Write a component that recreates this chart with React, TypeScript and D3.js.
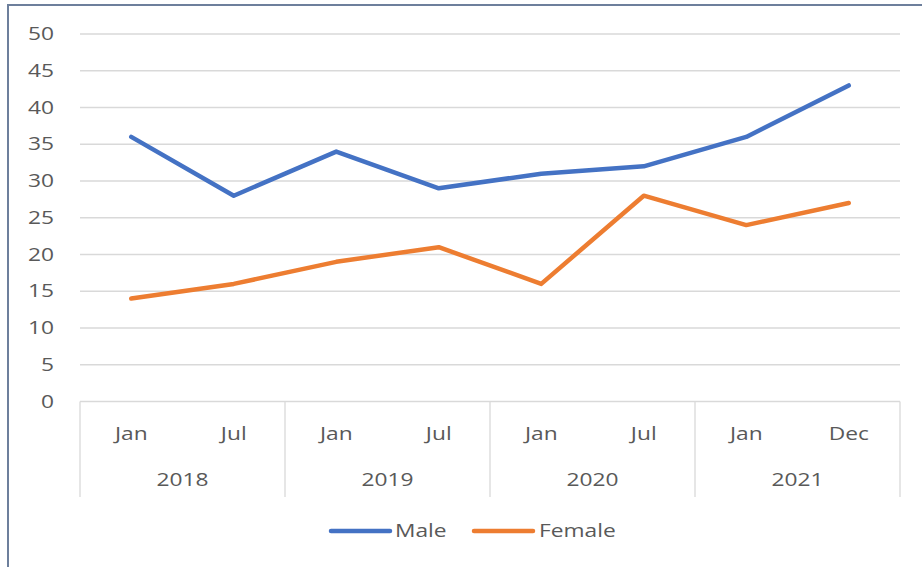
import React, { useEffect, useRef } from "react";
import * as d3 from "d3";

const months = ["Jan", "Jul", "Jan", "Jul", "Jan", "Jul", "Jan", "Dec"];
const years = ["2018", "2019", "2020", "2021"];
const maleValues = [36, 28, 34, 29, 31, 32, 36, 43];
const femaleValues = [14, 16, 19, 21, 16, 28, 24, 27];
const yTicks = [0, 5, 10, 15, 20, 25, 30, 35, 40, 45, 50];
const seriesNames = ["Male", "Female"];
const seriesColors = ["#4472C4", "#ED7D31"];

const W = 922;
const H = 567;

export default function App() {
  const ref = useRef<SVGSVGElement>(null);

  useEffect(() => {
    const svg = d3.select(ref.current);
    svg.selectAll("*").remove();

    const left = 80, right = 900, top = 34, bottom = 401.5;
    const font = "'Open Sans', 'Noto Sans', sans-serif";
    const textColor = "#595959";
    const sx = 1.3;

    const label = (g: any, tx: number, ty: number, s: string, anchor: string) => {
      g.append("text")
        .attr("transform", `translate(${tx},${ty}) scale(${sx},1)`)
        .attr("dy", "0.35em")
        .attr("text-anchor", anchor)
        .attr("font-family", font).attr("font-size", 17.5)
        .attr("fill", textColor)
        .text(s);
    };

    const idx = months.map((_, i) => String(i));
    const x = d3.scaleBand().domain(idx).range([left, right]);
    const y = d3.scaleLinear().domain([0, 50]).range([bottom, top]);

    svg.append("rect").attr("width", W).attr("height", H).attr("fill", "#ffffff");

    // border
    svg.append("path")
      .attr("d", `M8,${H} L8,5 L${W},5`)
      .attr("fill", "none")
      .attr("stroke", "#6d7f9c")
      .attr("stroke-width", 2);

    // gridlines
    svg.append("g").selectAll("line").data(yTicks.filter(t => t > 0)).join("line")
      .attr("x1", left).attr("x2", right)
      .attr("y1", d => y(d)).attr("y2", d => y(d))
      .attr("stroke", "#d9d9d9").attr("stroke-width", 1.3);

    // y labels
    const gy = svg.append("g");
    yTicks.forEach(t => label(gy, 54, y(t), String(t), "end"));

    // category axis box
    const axisBottom = 497;
    svg.append("line")
      .attr("x1", left).attr("x2", right).attr("y1", bottom).attr("y2", bottom)
      .attr("stroke", "#d9d9d9").attr("stroke-width", 1.3);
    const groupBounds = [0, 2, 4, 6, 8].map(i => (i < 8 ? x(String(i))! : right));
    svg.append("g").selectAll("line").data(groupBounds).join("line")
      .attr("x1", d => d).attr("x2", d => d)
      .attr("y1", bottom).attr("y2", axisBottom)
      .attr("stroke", "#d9d9d9").attr("stroke-width", 1.3);

    const gm = svg.append("g");
    months.forEach((m, i) => label(gm, x(String(i))! + x.bandwidth() / 2, 434, m, "middle"));

    const gyr = svg.append("g");
    years.forEach((yr, i) => label(gyr, (groupBounds[i] + groupBounds[i + 1]) / 2, 480, yr, "middle"));

    // lines
    const line = d3.line<number>()
      .x((_, i) => x(String(i))! + x.bandwidth() / 2)
      .y(d => y(d));
    [maleValues, femaleValues].forEach((vals, k) => {
      svg.append("path")
        .attr("d", line(vals)!)
        .attr("fill", "none")
        .attr("stroke", seriesColors[k])
        .attr("stroke-width", 4.5)
        .attr("stroke-linejoin", "round")
        .attr("stroke-linecap", "round");
    });

    // legend
    const legendY = 531;
    const legendItems = [
      { x0: 331, x1: 390, tx: 395 },
      { x0: 474, x1: 533, tx: 539 },
    ];
    const gl = svg.append("g");
    legendItems.forEach((it, k) => {
      gl.append("line")
        .attr("x1", it.x0).attr("x2", it.x1).attr("y1", legendY).attr("y2", legendY)
        .attr("stroke", seriesColors[k]).attr("stroke-width", 4.5)
        .attr("stroke-linecap", "round");
      label(gl, it.tx, legendY, seriesNames[k], "start");
    });
  }, []);

  return (
    <svg
      ref={ref}
      width={W}
      height={H}
      style={{ position: "absolute", left: 0, top: 0, display: "block" }}
    />
  );
}
